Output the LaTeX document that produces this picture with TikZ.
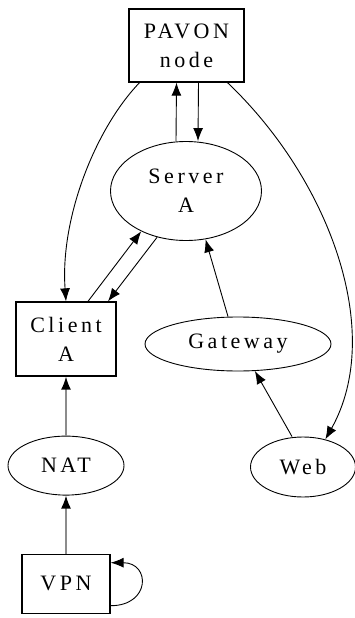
\documentclass[tikz,border=0pt]{standalone}
\usepackage{fontspec}
\setmainfont{Liberation Serif}[LetterSpace=16]
\usetikzlibrary{positioning,arrows.meta,shapes.geometric}

\begin{document}
\begin{tikzpicture}[
		x=1pt,y=-1pt,
		>={Latex[length=13pt,width=10pt]},
		every node/.style={
			font=\fontsize{22}{29}\selectfont,
			align=center,
			inner sep=0pt
		},
		box/.style={
			draw,
			rectangle,
			line width=1.3pt
		},
		oval/.style={
			draw,
			ellipse,
			line width=0.9pt
		},
		link/.style={
			->,
			line width=0.9pt
		},
		graylink/.style={
			-{Latex[length=13pt,width=10pt,black]},
			draw=gray!90,
			line width=1.4pt
		}
	]
	\useasboundingbox (0,0) rectangle (355,618);
	% nodes
	\node[box,minimum width=115pt,minimum height=73pt] at (186.5,45.5)
	(pav) {PAVON\\node};
	\node[oval,minimum width=151pt,minimum height=99pt] at (186,191)
	(srv) {Server\\A};
	\node[box,minimum width=100pt,minimum height=74pt] at (66,339)
	(cli) {Client\\A};
	\node[oval,minimum width=186pt,minimum height=54pt] at (238,344)
	(gw) {Gateway};
	\node[oval,minimum width=116pt,minimum height=59pt,below=59pt of cli]
	(nat) {NAT};
	\node[box,minimum width=88pt,minimum height=59pt,below=58pt of nat]
	(vpn) {VPN};
	\node[oval,minimum width=105pt,minimum height=60pt] at (303,467)
	(web) {Web};
	
	% connectors
	\draw[link] ([xshift=-10pt]srv.north) -- ([xshift=-10pt]pav.south);
	\draw[link] ([xshift=12pt]pav.south) -- ([xshift=12pt]srv.north);
	\draw[link] ([xshift=-47pt]pav.south) .. controls +(-45,47) and +(-6,-82) .. (cli.north);
	\draw[link] ([xshift=41pt]pav.south) .. controls +(102,97) and +(60,-107) .. (web.51);
	\draw[link] ([xshift=22pt]cli.north) -- (srv.222);
	\draw[link] (srv.238) -- ([xshift=42pt]cli.north);
	\draw[link] ([xshift=-10pt]gw.north) -- (srv.292);
	\draw[link] ([xshift=-11pt]web.north) -- (gw.302);
	\draw[graylink] (nat) -- (cli);
	\draw[graylink] (vpn) -- (nat);
	\draw[link] ([yshift=-22pt]vpn.east) .. controls +(40,0) and +(40,0) .. ([yshift=21pt]vpn.east);
\end{tikzpicture}
\end{document}
